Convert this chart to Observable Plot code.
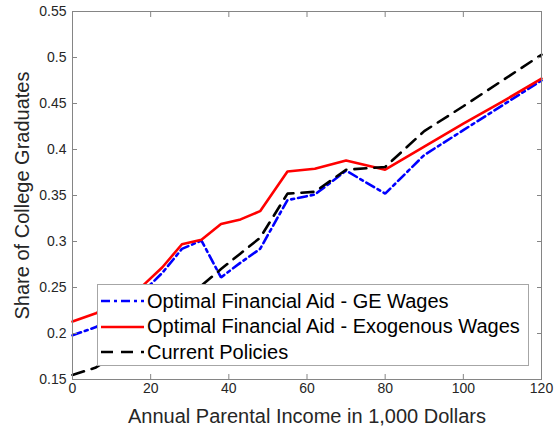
<!DOCTYPE html>
<html>
<head>
<meta charset="utf-8">
<script src="https://cdn.jsdelivr.net/npm/d3@7"></script>
<script src="https://cdn.jsdelivr.net/npm/@observablehq/plot@0.6"></script>
<style>
  body { margin: 0; background: #fff; font-family: "Liberation Sans", Arial, sans-serif; }
  #wrap { position: relative; width: 559px; height: 437px; }
  #legend { position: absolute; left: 97px; top: 284px; width: 430px; height: 80px;
            border: 1px solid #a6a6a6; background: #fff; }
  .row { position: absolute; left: 3px; height: 26px; display: flex; align-items: center;
         font-size: 20px; color: #000; white-space: nowrap; }
  .row svg { margin-right: 3px; }
</style>
</head>
<body>
<div id="wrap"></div>
<script>
// ---- data ----
const income = [0, 6, 12, 18, 23, 28, 33, 38, 43, 48, 55, 62, 70, 80, 90, 100, 110, 120];
const geWages = [0.198, 0.207, 0.222, 0.245, 0.266, 0.292, 0.301, 0.261, 0.277, 0.292, 0.345, 0.351, 0.377, 0.352, 0.394, 0.421, 0.448, 0.475];
const exoWages = [0.213, 0.222, 0.234, 0.252, 0.272, 0.297, 0.302, 0.319, 0.324, 0.333, 0.376, 0.379, 0.388, 0.378, 0.403, 0.428, 0.452, 0.477];
const currentPolicies = [0.155, 0.163, 0.180, 0.200, 0.220, 0.237, 0.252, 0.270, 0.287, 0.304, 0.352, 0.354, 0.378, 0.381, 0.420, 0.447, 0.475, 0.503];

const seriesNames = ["Optimal Financial Aid - GE Wages", "Optimal Financial Aid - Exogenous Wages", "Current Policies"];
const seriesColors = ["#0000ff", "#ff0000", "#000000"];
const seriesDash = ["9,4,3,4", null, "12,8"];

const xTicks = [0, 20, 40, 60, 80, 100, 120];
const yTicks = [0.15, 0.2, 0.25, 0.3, 0.35, 0.4, 0.45, 0.5, 0.55];
const xLabel = "Annual Parental Income in 1,000 Dollars";
const yLabel = "Share of College Graduates";

// ---- build ----
const seriesValues = [geWages, exoWages, currentPolicies];
const rows = (ys) => income.map((x, i) => ({x, y: ys[i]}));
const axisColor = "#858585";
const textColor = "#262626";
const font = "'Liberation Sans', Arial, sans-serif";

const lineMarks = seriesValues.map((ys, k) =>
  Plot.line(rows(ys), {
    x: "x", y: "y",
    stroke: seriesColors[k], strokeWidth: 2.6,
    strokeDasharray: seriesDash[k] || undefined,
    strokeLinejoin: "miter"
  })
);

const chart = Plot.plot({
  width: 559, height: 437,
  marginLeft: 72, marginRight: 18, marginTop: 11, marginBottom: 58,
  style: {fontFamily: font, background: "#fff", color: textColor, overflow: "visible"},
  x: {domain: [0, 120]},
  y: {domain: [0.15, 0.55]},
  marks: [
    ...lineMarks,
    Plot.frame({stroke: axisColor}),
    Plot.axisX({anchor: "bottom", ticks: xTicks, tickSize: -5, tickPadding: 9, fontSize: 14,
                tickFormat: d => String(d), label: null, stroke: axisColor, fill: textColor}),
    Plot.axisX({anchor: "top", ticks: xTicks, tickSize: -5, text: null, label: null, stroke: axisColor}),
    Plot.axisY({anchor: "left", ticks: yTicks, tickSize: -5, tickPadding: 11, fontSize: 14,
                tickFormat: d => String(+d.toFixed(2)), label: null, stroke: axisColor, fill: textColor}),
    Plot.axisY({anchor: "right", ticks: yTicks, tickSize: -5, text: null, label: null, stroke: axisColor}),
    Plot.text([xLabel], {text: d => d, frameAnchor: "bottom", dy: 43, fontSize: 20, fill: textColor}),
    Plot.text([yLabel], {text: d => d, frameAnchor: "left", textAnchor: "middle", rotate: -90,
                         dx: -50, fontSize: 20, fill: textColor})
  ]
});

const wrap = document.getElementById("wrap");
wrap.appendChild(chart);

// legend (inside the axes, like the reference)
const legend = document.createElement("div");
legend.id = "legend";
const rowCenters = [16, 41.5, 67];
seriesNames.forEach((name, k) => {
  const row = document.createElement("div");
  row.className = "row";
  row.style.top = (rowCenters[k] - 13) + "px";
  const sw = d3.create("svg").attr("width", 43).attr("height", 10);
  sw.append("line").attr("x1", 0).attr("x2", 43).attr("y1", 5).attr("y2", 5)
    .attr("stroke", seriesColors[k]).attr("stroke-width", 2.6)
    .attr("stroke-dasharray", seriesDash[k]);
  row.appendChild(sw.node());
  const span = document.createElement("span");
  span.textContent = name;
  row.appendChild(span);
  legend.appendChild(row);
});
wrap.appendChild(legend);
</script>
</body>
</html>
